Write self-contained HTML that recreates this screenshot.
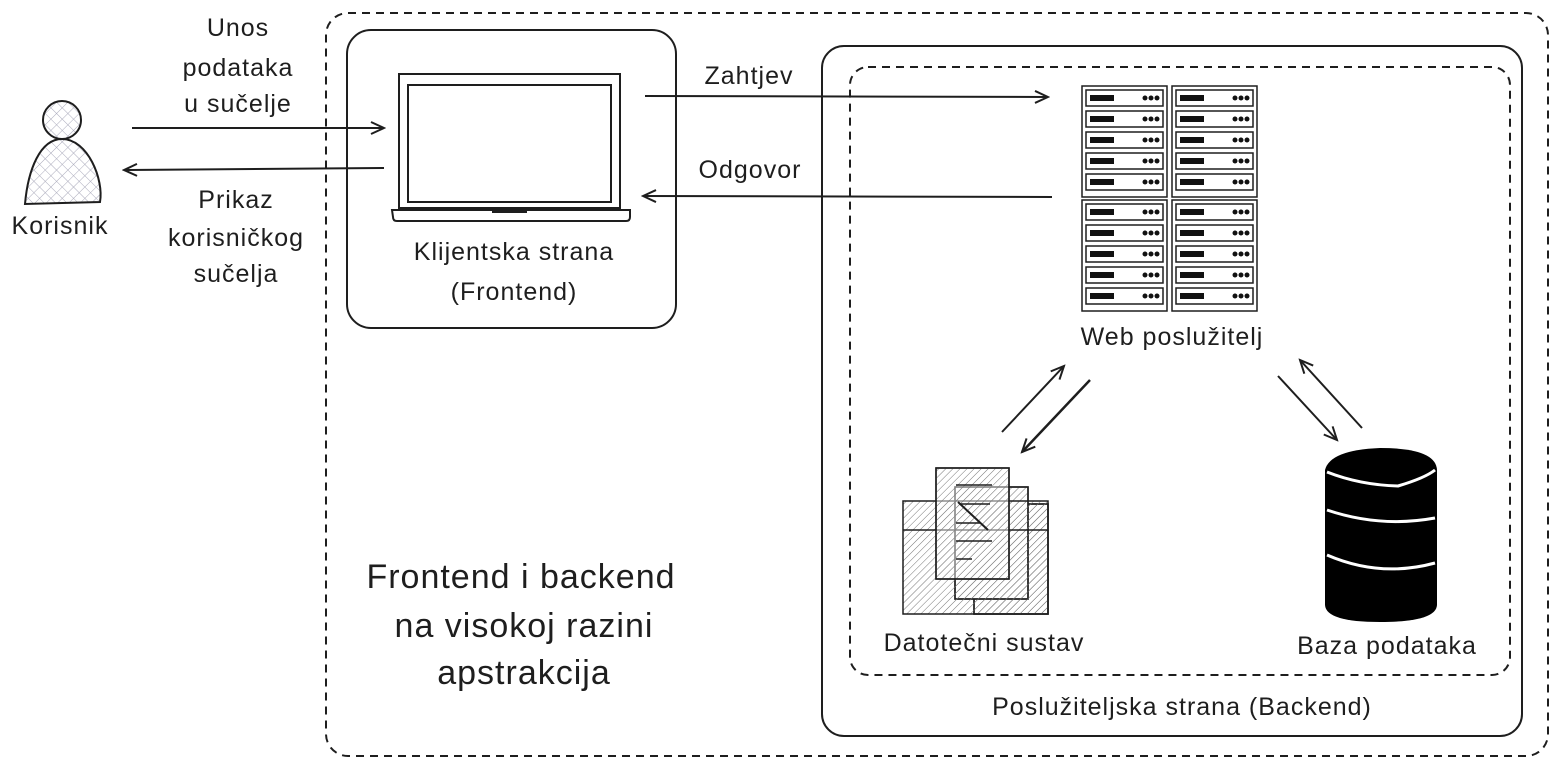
<!DOCTYPE html>
<html><head><meta charset="utf-8"><style>
html,body{margin:0;padding:0;background:#fff;}
svg{display:block;}
text{font-family:"Liberation Sans","DejaVu Sans",sans-serif;fill:#1e1e1e;letter-spacing:1px;}
</style></head><body>
<svg width="1556" height="766" viewBox="0 0 1556 766" xmlns="http://www.w3.org/2000/svg">
<defs>
<pattern id="cross" width="8" height="8" patternUnits="userSpaceOnUse" patternTransform="rotate(45)">
<path d="M0 0H8M0 0V8" stroke="#aab" stroke-width="1"/>
</pattern>
<pattern id="hatch" width="5" height="5" patternUnits="userSpaceOnUse" patternTransform="rotate(45)">
<path d="M0 0V5" stroke="#777" stroke-width="1"/>
</pattern>
<marker id="ah" markerWidth="16" markerHeight="14" refX="14" refY="7" orient="auto" markerUnits="userSpaceOnUse">
<path d="M1 1L14 7L1 13" fill="none" stroke="#1e1e1e" stroke-width="2"/>
</marker>
<g id="unit">
<rect x="4" y="0" width="77" height="16" fill="#fff" stroke="#1e1e1e" stroke-width="1.5"/>
<rect x="8" y="5" width="24" height="6" fill="#111"/>
<circle cx="63" cy="8" r="2.5" fill="#111"/><circle cx="69" cy="8" r="2.5" fill="#111"/><circle cx="75" cy="8" r="2.5" fill="#111"/>
</g>
<g id="rack">
<rect x="0" y="0" width="85" height="111" fill="#fff" stroke="#1e1e1e" stroke-width="1.5"/>
<use href="#unit" y="4"/><use href="#unit" y="25"/><use href="#unit" y="46"/><use href="#unit" y="67"/><use href="#unit" y="88"/>
</g>
</defs>

<rect x="326" y="13" width="1222" height="743" rx="22" fill="none" stroke="#1e1e1e" stroke-width="2" stroke-dasharray="8 6"/>
<rect x="347" y="30" width="329" height="298" rx="24" fill="none" stroke="#1e1e1e" stroke-width="2"/>
<rect x="822" y="46" width="700" height="690" rx="22" fill="none" stroke="#1e1e1e" stroke-width="2"/>
<rect x="850" y="67" width="660" height="608" rx="18" fill="none" stroke="#1e1e1e" stroke-width="2" stroke-dasharray="8 6"/>

<circle cx="62" cy="120" r="19" fill="url(#cross)" stroke="#1e1e1e" stroke-width="2"/>
<path d="M62 139 C40 139 28 170 25 204 L100 202 C104 180 88 139 62 139 Z" fill="url(#cross)" stroke="#1e1e1e" stroke-width="2"/>
<text x="60" y="234" font-size="25" text-anchor="middle">Korisnik</text>

<line x1="132" y1="128" x2="384" y2="128" stroke="#1e1e1e" stroke-width="2" marker-end="url(#ah)"/>
<line x1="384" y1="168" x2="124" y2="170" stroke="#1e1e1e" stroke-width="2" marker-end="url(#ah)"/>
<text font-size="25" text-anchor="middle"><tspan x="238" y="36">Unos</tspan><tspan x="238" y="76">podataka</tspan><tspan x="238" y="112">u sučelje</tspan></text>
<text font-size="25" text-anchor="middle"><tspan x="236" y="208">Prikaz</tspan><tspan x="236" y="246">korisničkog</tspan><tspan x="236" y="282">sučelja</tspan></text>

<rect x="399" y="74" width="221" height="134" fill="#fff" stroke="#1e1e1e" stroke-width="2"/>
<rect x="408" y="85" width="203" height="117" fill="#fff" stroke="#1e1e1e" stroke-width="2"/>
<path d="M392 210 H630 V217 Q630 221 626 221 H397 Q393 221 393 217 Z" fill="#fff" stroke="#1e1e1e" stroke-width="2"/>
<rect x="492" y="210" width="35" height="3" fill="#1e1e1e"/>
<text font-size="25" text-anchor="middle"><tspan x="514" y="260">Klijentska strana</tspan><tspan x="514" y="300">(Frontend)</tspan></text>

<line x1="645" y1="96" x2="1048" y2="97" stroke="#1e1e1e" stroke-width="2" marker-end="url(#ah)"/>
<text x="749" y="84" font-size="25" text-anchor="middle">Zahtjev</text>
<line x1="1052" y1="197" x2="643" y2="196" stroke="#1e1e1e" stroke-width="2" marker-end="url(#ah)"/>
<text x="750" y="178" font-size="25" text-anchor="middle">Odgovor</text>

<use href="#rack" x="1082" y="86"/>
<use href="#rack" x="1172" y="86"/>
<use href="#rack" x="1082" y="200"/>
<use href="#rack" x="1172" y="200"/>
<text x="1172" y="345" font-size="25" text-anchor="middle">Web poslužitelj</text>

<line x1="1002" y1="432" x2="1064" y2="366" stroke="#1e1e1e" stroke-width="2" marker-end="url(#ah)"/>
<line x1="1090" y1="380" x2="1022" y2="452" stroke="#1e1e1e" stroke-width="2.5" marker-end="url(#ah)"/>
<line x1="1278" y1="376" x2="1337" y2="440" stroke="#1e1e1e" stroke-width="2" marker-end="url(#ah)"/>
<line x1="1362" y1="428" x2="1300" y2="360" stroke="#1e1e1e" stroke-width="2" marker-end="url(#ah)"/>

<g stroke="#1e1e1e" stroke-width="1.5">
<rect x="974" y="504" width="74" height="110" fill="#fff"/>
<rect x="974" y="504" width="74" height="110" fill="url(#hatch)"/>
<rect x="955" y="487" width="73" height="112" fill="#fff"/>
<rect x="955" y="487" width="73" height="112" fill="url(#hatch)"/>
<rect x="903" y="501" width="145" height="113" fill="url(#hatch)"/>
<line x1="903" y1="530" x2="1048" y2="530"/>
<rect x="936" y="468" width="73" height="111" fill="#fff" fill-opacity="0.5"/>
<rect x="936" y="468" width="73" height="111" fill="url(#hatch)"/>
<line x1="958" y1="502" x2="988" y2="530" stroke-width="2"/>
<path d="M956 485H992M960 504H990M956 523H980M956 541H992M956 559H972" stroke-width="1.5"/>
</g>
<text x="984" y="651" font-size="25" text-anchor="middle">Datotečni sustav</text>

<path d="M1325 470 Q1330 450 1380 448 Q1436 448 1437 470 V605 Q1436 622 1380 622 Q1326 622 1325 605 Z" fill="#000"/>
<path d="M1327 472 Q1360 485 1398 486 Q1425 478 1435 470" fill="none" stroke="#fff" stroke-width="3"/>
<path d="M1327 510 Q1380 528 1435 518" fill="none" stroke="#fff" stroke-width="3"/>
<path d="M1327 555 Q1380 578 1435 563" fill="none" stroke="#fff" stroke-width="3"/>
<text x="1387" y="654" font-size="25" text-anchor="middle">Baza podataka</text>

<text x="1182" y="715" font-size="25" text-anchor="middle">Poslužiteljska strana (Backend)</text>

<text font-size="34" text-anchor="middle"><tspan x="521" y="588">Frontend i backend</tspan><tspan x="524" y="637">na visokoj razini</tspan><tspan x="524" y="684">apstrakcija</tspan></text>
</svg>
</body></html>
